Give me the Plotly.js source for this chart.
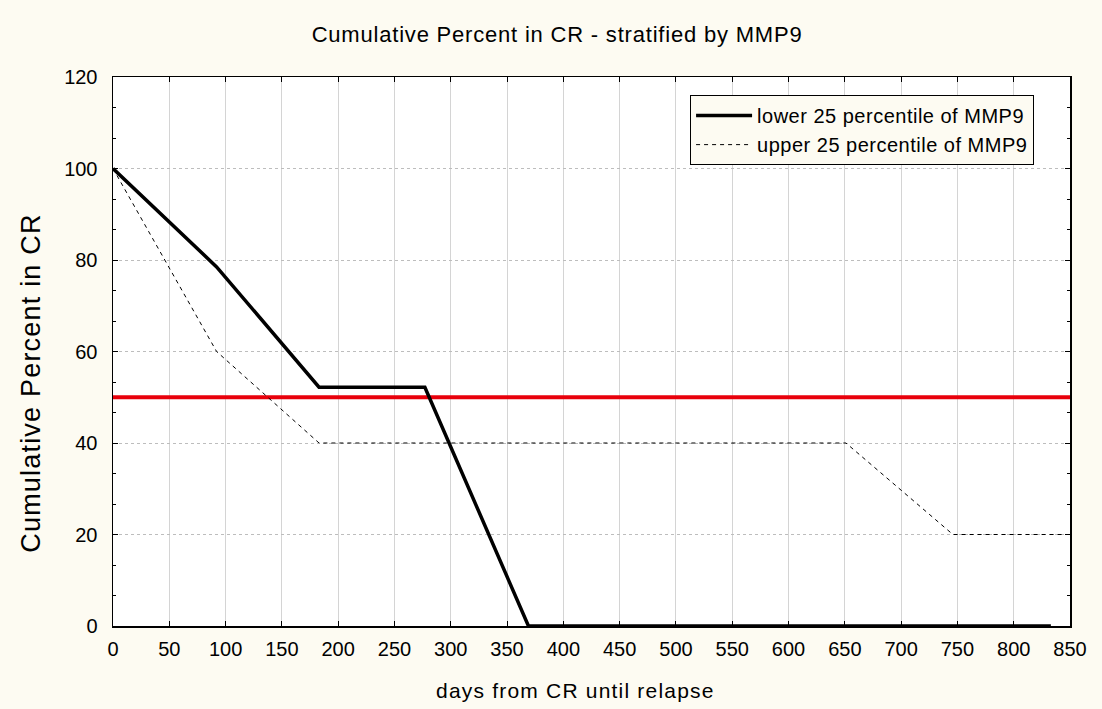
<!DOCTYPE html>
<html>
<head>
<meta charset="utf-8">
<script src="https://cdn.plot.ly/plotly-3.0.1.min.js"></script>
<style>
html,body{margin:0;padding:0;background:#fdfbf2;}
.gtitle{letter-spacing:0.8px;}
.annotation-text{letter-spacing:1.2px;}
.legendtext{letter-spacing:0.5px;}
</style>
</head>
<body>
<div id="chart" style="width:1102px;height:709px;"></div>
<script>
const lowerDays = [0, 92, 183, 277, 369, 833];
const lowerPct  = [100, 78.5, 52.2, 52.2, 0, 0];
const upperDays = [0, 92, 183, 651, 746, 848];
const upperPct  = [100, 60, 40, 40, 20, 20];
const refDays = [0, 850];
const refPct  = [50, 50];
const xTicks = [0,50,100,150,200,250,300,350,400,450,500,550,600,650,700,750,800,850];
const yTicks = [0,20,40,60,80,100,120];

const fam = 'Liberation Sans, Arial, sans-serif';
const f = (s) => ({family: fam, size: s, color: '#000'});

const data = [
  {x: refDays, y: refPct, mode: 'lines', line: {color: '#e8000b', width: 4}, showlegend: false, hoverinfo: 'skip'},
  {x: lowerDays, y: lowerPct, mode: 'lines', name: 'lower 25 percentile of MMP9', line: {color: '#000', width: 3.5}},
  {x: upperDays, y: upperPct, mode: 'lines', name: 'upper 25 percentile of MMP9', line: {color: '#000', width: 1, dash: '4px,4px'}}
];

const layout = {
  width: 1102, height: 709,
  margin: {l: 113, r: 32, t: 77, b: 83},
  paper_bgcolor: '#fdfbf2',
  plot_bgcolor: '#ffffff',
  font: f(16),
  title: {text: 'Cumulative Percent in CR - stratified by MMP9', xref: 'paper', x: 0.464, xanchor: 'center', y: 0.952, yanchor: 'middle', font: f(22)},
  xaxis: {
    range: [0, 850], tickvals: xTicks, ticktext: xTicks.map(String),
    showline: true, linecolor: '#000', linewidth: 1.5, mirror: 'ticks',
    ticks: 'inside', ticklen: 5, tickcolor: '#000',
    showgrid: true, gridcolor: '#d4d4d4', gridwidth: 1,
    zeroline: false, tickfont: f(20), ticklabelstandoff: 4
  },
  yaxis: {
    range: [0, 120], tickvals: yTicks, ticktext: yTicks.map(String),
    showline: true, linecolor: '#000', linewidth: 1.5, mirror: 'ticks',
    ticks: 'inside', ticklen: 5, tickcolor: '#000',
    minor: {dtick: 20/3, ticks: 'inside', ticklen: 3, tickcolor: '#000', showgrid: false},
    showgrid: true, gridcolor: '#bdbdbd', gridwidth: 1, griddash: 'dot',
    zeroline: false, tickfont: f(20), ticklabelstandoff: 10
  },
  annotations: [
    {text: 'days from CR until relapse', xref: 'paper', yref: 'paper', x: 0.483, y: -0.1166, xanchor: 'center', yanchor: 'middle', showarrow: false, font: f(21)},
    {text: 'Cumulative Percent in CR', xref: 'paper', yref: 'paper', x: -0.0857, y: 0.443, xanchor: 'center', yanchor: 'middle', textangle: -90, showarrow: false, font: f(27)}
  ],
  legend: {
    x: 0.603, y: 0.967, xanchor: 'left', yanchor: 'top',
    bgcolor: '#fdfbf2', bordercolor: '#000', borderwidth: 1,
    itemwidth: 56,
    font: f(20)
  },
  showlegend: true
};

Plotly.newPlot('chart', data, layout, {displayModeBar: false, staticPlot: true});
</script>
</body>
</html>
